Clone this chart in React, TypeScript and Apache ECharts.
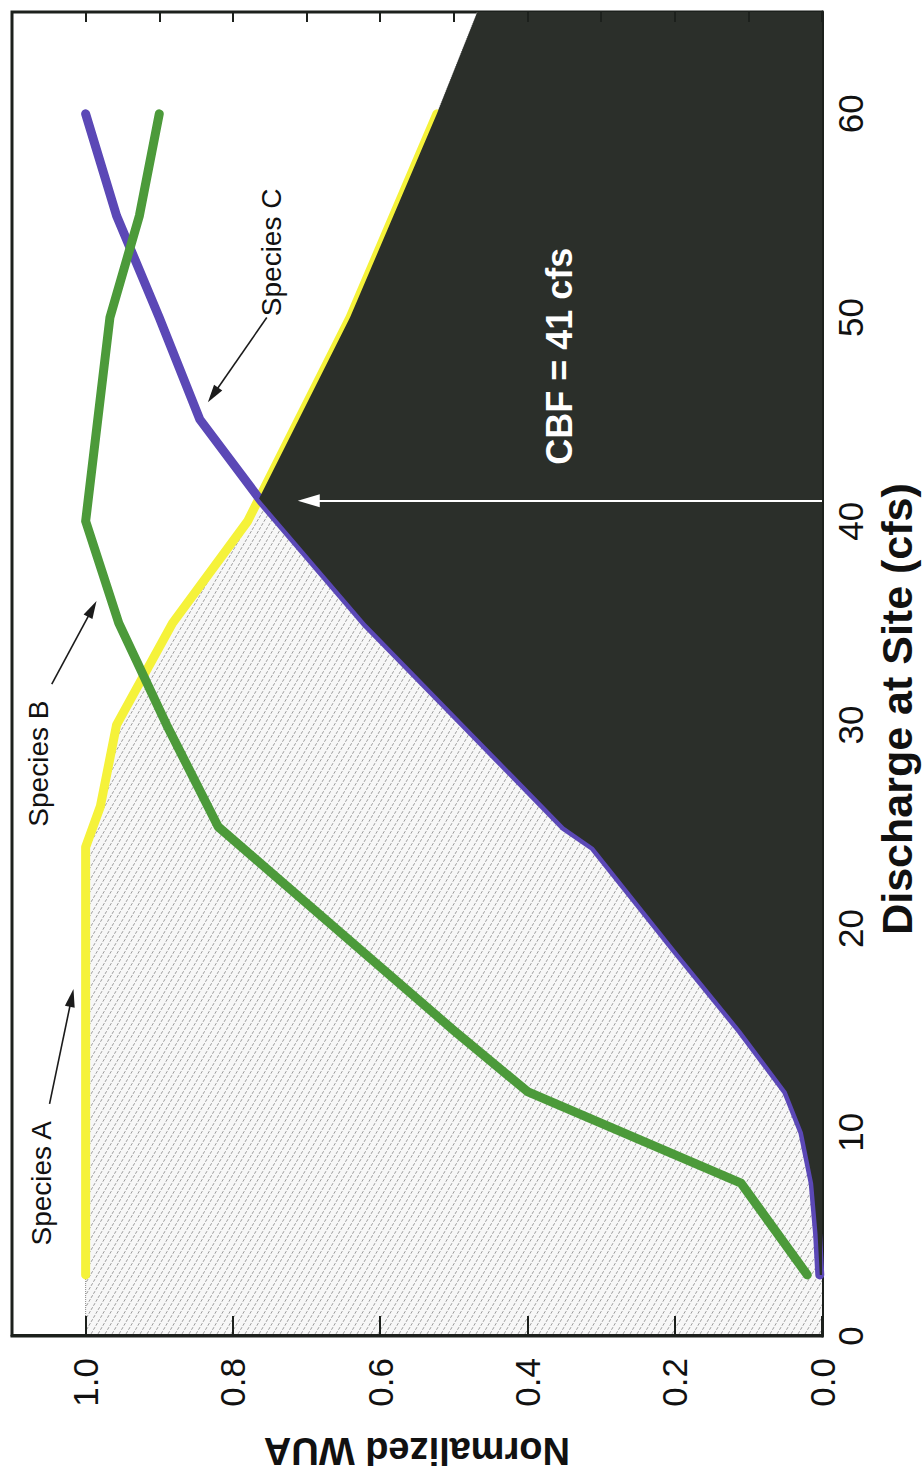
import React, { useEffect, useRef } from "react";
import * as echarts from "echarts";

type Pt = [number, number];

// Normalized weighted usable area against discharge (cfs), one curve per species
const speciesA: Pt[] = [[3, 1.0], [24, 1.0], [26, 0.98], [30, 0.958], [35, 0.882], [40, 0.78], [50, 0.641], [60, 0.523]];
const speciesB: Pt[] = [[3, 0.02], [7.5, 0.11], [12, 0.4], [15, 0.5], [20, 0.66], [25, 0.82], [30, 0.89], [35, 0.955], [40, 1.0], [50, 0.967], [55, 0.927], [60, 0.9]];
const speciesC: Pt[] = [[3, 0.003], [5, 0.006], [7.5, 0.012], [10, 0.026], [12, 0.048], [15, 0.11], [19, 0.2], [24, 0.31], [25, 0.35], [30, 0.485], [35, 0.62], [41, 0.762], [45, 0.845], [50, 0.9], [55, 0.958], [60, 1.0]];
// shaded envelope continues past the last surveyed flow
const envelopeTail: Pt[] = [[65, 0.468]];

const CBF = 41; // critical base flow, cfs

const dischargeTicks = [0, 10, 20, 30, 40, 50, 60];
const wuaTicks = [0, 0.2, 0.4, 0.6, 0.8, 1.0];

// callouts, in data units (discharge, WUA)
const callouts = [
  { name: "Species A", at: [7.5, 1.06], tail: [11.4, 1.049], head: [16.6, 1.019] },
  { name: "Species B", at: [28.1, 1.064], tail: [32.0, 1.046], head: [35.7, 0.991] },
  { name: "Species C", at: [53.2, 0.747], tail: [50.0, 0.754], head: [46.2, 0.827] },
];
const cbfLabelAt = [48.1, 0.356];
const cbfArrowTip = 0.697;

const FONT = "'Liberation Sans', Arial, sans-serif";
const INK = "#1c201c";
const YELLOW = "#f5f23a";
const GREEN = "#4c9a3a";
const PURPLE = "#5b48b6";
const DARK = "#2b2f2a";

function crossing(p: Pt[], q: Pt[]): Pt {
  for (let i = 0; i < p.length - 1; i++) {
    for (let j = 0; j < q.length - 1; j++) {
      const [x1, y1] = p[i], [x2, y2] = p[i + 1], [x3, y3] = q[j], [x4, y4] = q[j + 1];
      const d = (x2 - x1) * (y4 - y3) - (y2 - y1) * (x4 - x3);
      if (d === 0) continue;
      const t = ((x3 - x1) * (y4 - y3) - (y3 - y1) * (x4 - x3)) / d;
      const u = ((x3 - x1) * (y2 - y1) - (y3 - y1) * (x2 - x1)) / d;
      if (t >= 0 && t <= 1 && u >= 0 && u <= 1) return [x1 + t * (x2 - x1), y1 + t * (y2 - y1)];
    }
  }
  return p[p.length - 1];
}

function makeHatch(): HTMLCanvasElement {
  const w = 12, h = 7;
  const c = document.createElement("canvas");
  c.width = w;
  c.height = h;
  const g = c.getContext("2d")!;
  g.fillStyle = "#f7f7f7";
  g.fillRect(0, 0, w, h);
  g.strokeStyle = "rgba(60,60,60,0.55)";
  g.lineWidth = 0.9;
  g.setLineDash([3, 1.7]);
  for (let k = -1; k <= 1; k++) {
    g.beginPath();
    g.moveTo(-w, -h + k * h);
    g.lineTo(2 * w, 2 * h + k * h);
    g.stroke();
  }
  return c;
}

export default function App() {
  const ref = useRef<HTMLDivElement>(null);

  useEffect(() => {
    if (!ref.current) return;
    const chart = echarts.init(ref.current, null, { renderer: "svg" });

    const [cx, cy] = crossing(speciesC, speciesA);
    const hatchEdge: Pt[] = [[0, speciesA[0][1]], ...speciesA, ...envelopeTail];
    const darkEdge: Pt[] = [
      ...speciesC.filter((p) => p[0] < cx),
      [cx, cy],
      ...speciesA.filter((p) => p[0] > cx),
      ...envelopeTail,
    ];

    const tickFont = { fontSize: 35, color: "#111", fontFamily: FONT };
    const nameFont = { fontWeight: "bold" as const, color: "#111", fontFamily: FONT };

    chart.setOption({
      animation: false,
      backgroundColor: "#fff",
      textStyle: { fontFamily: FONT },
      grid: { left: 137, right: 12, top: 12, bottom: 101, show: true, borderColor: INK, borderWidth: 3 },
      xAxis: {
        type: "value",
        min: 0,
        max: 65,
        interval: 10,
        axisLine: { lineStyle: { color: INK, width: 3 } },
        axisTick: { show: false },
        splitLine: { show: false },
        axisLabel: {
          ...tickFont,
          margin: 11,
          showMaxLabel: false,
          formatter: (v: number) => (dischargeTicks.includes(v) ? String(v) : ""),
        },
        name: "Discharge at Site (cfs)",
        nameLocation: "middle",
        nameGap: 53,
        nameTextStyle: { ...nameFont, fontSize: 43, padding: [0, 70, 0, 0] },
      },
      yAxis: [
        {
          type: "value",
          min: 0,
          max: 1.1,
          interval: 0.2,
          z: 10,
          axisLine: { show: true, lineStyle: { color: INK, width: 3 } },
          axisTick: { show: true, inside: true, length: 20, lineStyle: { color: INK, width: 2 } },
          splitLine: { show: false },
          axisLabel: {
            ...tickFont,
            margin: 22,
            showMaxLabel: false,
            formatter: (v: number) =>
              wuaTicks.some((t) => Math.abs(t - v) < 1e-6) ? v.toFixed(1) : "",
          },
          name: "Normalized WUA",
          nameLocation: "middle",
          nameGap: 96,
          nameTextStyle: { ...nameFont, fontSize: 38 },
        },
        {
          type: "value",
          min: 0,
          max: 1.1,
          interval: 0.1,
          z: 10,
          axisLine: { show: false },
          axisTick: { show: true, inside: true, length: 10, lineStyle: { color: INK, width: 2 } },
          axisLabel: { show: false },
          splitLine: { show: false },
        },
      ],
      series: [
        {
          name: "hatched",
          type: "line",
          data: hatchEdge,
          symbol: "none",
          silent: true,
          z: 1,
          lineStyle: { color: "#8a8a8a", width: 1, type: "dotted" },
          areaStyle: {
            color: { image: makeHatch(), repeat: "repeat", imageWidth: 12, imageHeight: 7 },
            opacity: 1,
          },
        },
        {
          name: "Species A",
          type: "line",
          data: speciesA,
          symbol: "none",
          z: 2,
          lineStyle: { color: YELLOW, width: 9, cap: "round", join: "round" },
        },
        {
          name: "Species C",
          type: "line",
          data: speciesC,
          symbol: "none",
          z: 3,
          lineStyle: { color: PURPLE, width: 9, cap: "round", join: "round" },
        },
        {
          name: "below CBF envelope",
          type: "line",
          data: darkEdge,
          symbol: "none",
          silent: true,
          z: 4,
          lineStyle: { width: 0, opacity: 0 },
          areaStyle: { color: DARK, opacity: 1 },
        },
        {
          name: "Species B",
          type: "line",
          data: speciesB,
          symbol: "none",
          z: 5,
          lineStyle: { color: GREEN, width: 9, cap: "round", join: "round" },
        },
        {
          name: "callouts",
          type: "scatter",
          symbolSize: 0,
          silent: true,
          z: 6,
          itemStyle: { opacity: 1 },
          data: callouts.map((c) => ({ name: c.name, value: c.at })),
          label: {
            show: true,
            position: "inside",
            formatter: "{b}",
            fontSize: 28,
            color: "#111111",
            opacity: 1,
            textBorderWidth: 0,
            fontFamily: FONT,
          },
          markLine: {
            silent: true,
            animation: false,
            label: { show: false },
            lineStyle: { type: "solid", color: "#1b1b1b", width: 1.6 },
            data: callouts.map((c) => [
              { coord: c.tail, symbol: "none" },
              { coord: c.head, symbol: "triangle", symbolSize: [10, 18] },
            ]),
          },
        },
        {
          name: "CBF",
          type: "scatter",
          symbolSize: 0,
          silent: true,
          z: 7,
          itemStyle: { opacity: 1 },
          data: [{ name: `CBF = ${CBF} cfs`, value: cbfLabelAt }],
          label: {
            show: true,
            position: "inside",
            formatter: "{b}",
            fontSize: 36,
            fontWeight: "bold",
            color: "#ffffff",
            opacity: 1,
            textBorderWidth: 0,
            fontFamily: FONT,
          },
          markLine: {
            silent: true,
            animation: false,
            label: { show: false },
            lineStyle: { type: "solid", color: "#ffffff", width: 2 },
            data: [
              [
                { coord: [CBF, 0], symbol: "none" },
                { coord: [CBF, cbfArrowTip], symbol: "triangle", symbolSize: [13, 22] },
              ],
            ],
          },
        },
      ],
    });

    return () => chart.dispose();
  }, []);

  return (
    <div
      style={{
        position: "fixed",
        left: 0,
        top: 0,
        width: 923,
        height: 1478,
        overflow: "hidden",
        background: "#fff",
      }}
    >
      <div
        ref={ref}
        style={{
          position: "absolute",
          left: 0,
          top: 0,
          width: 1478,
          height: 923,
          transformOrigin: "0 0",
          transform: "translateY(1478px) rotate(-90deg)",
        }}
      />
    </div>
  );
}
